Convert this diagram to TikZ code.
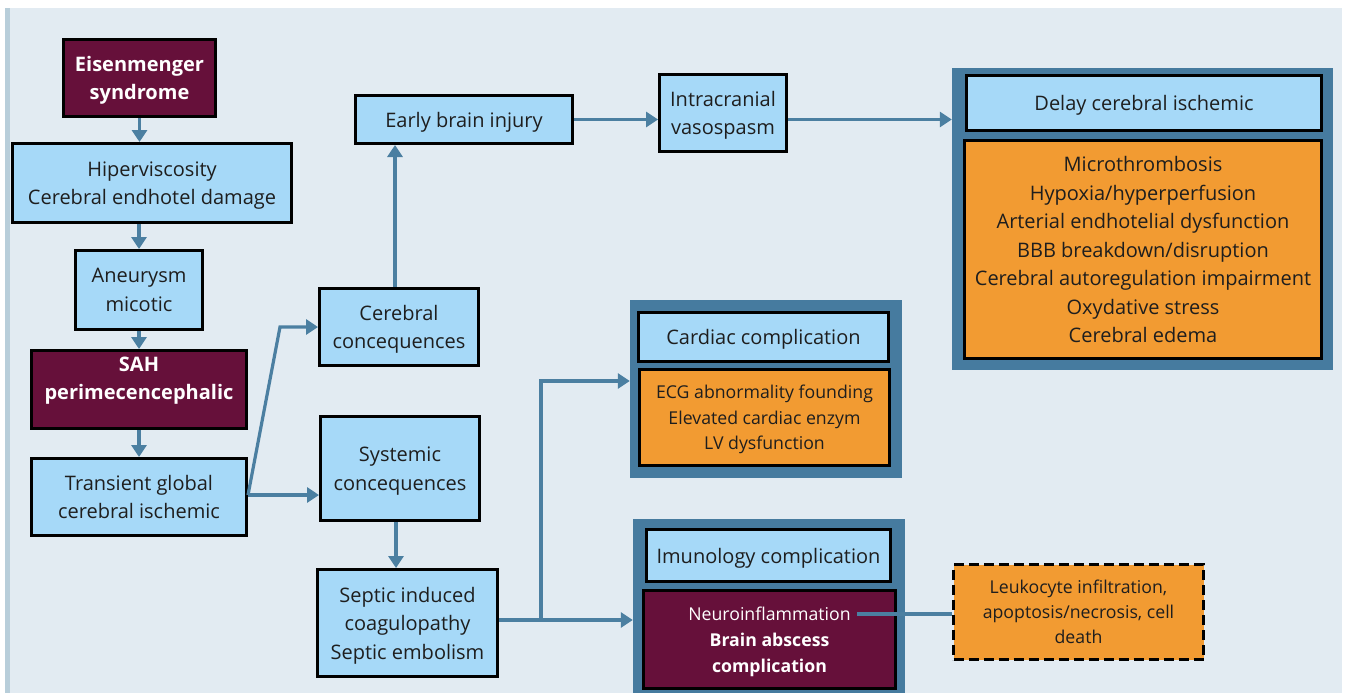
\documentclass[tikz,border=0pt]{standalone}
\usepackage{fontspec}
\setmainfont{Open Sans}
\usetikzlibrary{arrows.meta}
\definecolor{bgblue}{HTML}{E2EBF2}
\definecolor{stripeblue}{HTML}{B8CEDA}
\definecolor{boxblue}{HTML}{A6D9F8}
\definecolor{boxorange}{HTML}{F29B32}
\definecolor{boxmaroon}{HTML}{66103A}
\definecolor{framesteel}{HTML}{467B9F}
\definecolor{arrowsteel}{HTML}{4B7FA1}
\definecolor{textdark}{HTML}{1E1E1E}

\begin{document}
\begin{tikzpicture}[x=1pt,y=-1pt,
  basebox/.style={draw=black,line width=3pt,align=center,inner sep=0pt,text depth=0pt,
    text=textdark,font=\fontsize{20}{28.5}\selectfont},
  bluebox/.style={basebox,fill=boxblue},
  orangebox/.style={basebox,fill=boxorange},
  maroonbox/.style={basebox,fill=boxmaroon,text=white},
  frame/.style={fill=framesteel,inner sep=0pt},
  conn/.style={draw=arrowsteel,line width=3.2pt,-{Triangle[length=12pt,width=15pt]}},
  link/.style={draw=arrowsteel,line width=3.2pt}]
			\useasboundingbox (0,0) rectangle (1347,693);
			\fill[white] (0,0) rectangle (1347,693);
			\fill[bgblue] (5,8) rectangle (1342,693);
			\fill[stripeblue] (5,8) rectangle (10,693);

			% left column
			\node[maroonbox,minimum width=152,minimum height=77,font=\fontsize{20}{28.5}\selectfont\bfseries]
				(eisen) at (139.5,78) {Eisenmenger\\syndrome};
			\node[bluebox,minimum width=279,minimum height=79] (hiper) at (152,183)
				{Hiperviscosity\\Cerebral endhotel damage};
			\node[bluebox,minimum width=127,minimum height=79] (aneur) at (139,290)
				{Aneurysm\\micotic};
			\node[maroonbox,minimum width=215,minimum height=78,font=\fontsize{20}{28.5}\selectfont\bfseries]
				(sah) at (139,389.5) {SAH\\perimecencephalic\\[-6pt]\mbox{}};
			\node[bluebox,minimum width=215,minimum height=77] (trans) at (139,497)
				{Transient global\\cerebral ischemic};

			% middle column
			\node[bluebox,minimum width=159,minimum height=77] (cereb) at (399,327)
				{Cerebral\\concequences};
			\node[bluebox,minimum width=159,minimum height=104] (system) at (400,468.5)
				{Systemic\\concequences};
			\node[bluebox,minimum width=180,minimum height=107] (septic) at (407.5,623)
				{Septic induced\\coagulopathy\\Septic embolism};
			\node[bluebox,minimum width=217,minimum height=48] (early) at (464,119.5)
				{Early brain injury};
			\node[bluebox,minimum width=127,minimum height=77] (intra) at (723,113)
				{Intracranial\\vasospasm};

			% delay cerebral ischemic
			\node[frame,minimum width=381,minimum height=302] (delayframe) at (1142.5,219) {};
			\node[bluebox,minimum width=355,minimum height=55] (delayhead) at (1144,103)
				{Delay cerebral ischemic};
			\node[orangebox,minimum width=357,minimum height=218] (delaybody) at (1143,249.5)
				{Microthrombosis\\Hypoxia/hyperperfusion\\Arterial endhotelial dysfunction\\
				BBB breakdown/disruption\\Cerebral autoregulation impairment\\
				Oxydative stress\\Cerebral edema};

			% cardiac complication
			\node[frame,minimum width=272,minimum height=178] (cardframe) at (766,389) {};
			\node[bluebox,minimum width=250,minimum height=49] (cardhead) at (763.5,337)
				{Cardiac complication};
			\node[orangebox,minimum width=250,minimum height=96,font=\fontsize{17.7}{25.5}\selectfont]
				(cardbody) at (764.5,417.5)
				{ECG abnormality founding\\Elevated cardiac enzym\\LV dysfunction};

			% imunology complication
			\node[frame,minimum width=272,minimum height=181] (imunoframe) at (769,609.5) {};
			\node[bluebox,minimum width=244,minimum height=52] (imunohead) at (768.5,555.5)
				{Imunology complication};
			\node[maroonbox,minimum width=252,minimum height=98,font=\fontsize{17.7}{26}\selectfont]
				(imunobody) at (769.5,639.5)
				{Neuroinflammation\\\textbf{Brain abscess}\\\textbf{complication}};
			\node[orangebox,dashed,dash pattern=on 10pt off 5pt,minimum width=250,minimum height=95,
				font=\fontsize{17.7}{25}\selectfont] (leuko) at (1078.5,612)
				{Leukocyte infiltration,\\apoptosis/necrosis, cell\\death};

			% connectors
			\coordinate (tbend) at (280,327);
			\coordinate (sbranch) at (541,620);
			\coordinate (neuro) at (857,614);
			\draw[conn] (eisen.south) -- (eisen.south |- hiper.north);
			\draw[conn] (aneur.north |- hiper.south) -- (aneur.north);
			\draw[conn] (aneur) -- (sah);
			\draw[conn] (sah) -- (trans);
			\draw[conn] ([yshift=2]trans.east) -- (tbend) -- (cereb.west);
			\draw[conn] ([yshift=2]trans.east) -- ([yshift=2]trans.east -| system.west);
			\draw[conn] ([xshift=-4]cereb.north) -- ([xshift=-4]cereb.north |- early.south);
			\draw[conn] (early.east) -- (early.east -| intra.west);
			\draw[conn] (intra.east |- early.east) -- (delayframe.west |- early.east);
			\draw[conn] ([xshift=-4]system.south) -- ([xshift=-4]system.south |- septic.north);
			\draw[conn] (septic.east |- sbranch) -- (sbranch -| imunoframe.west);
			\draw[conn] (sbranch) |- ([yshift=8]cardframe.west);
			\draw[link] (neuro) -- (neuro -| leuko.west);
		\end{tikzpicture}
\end{document}
